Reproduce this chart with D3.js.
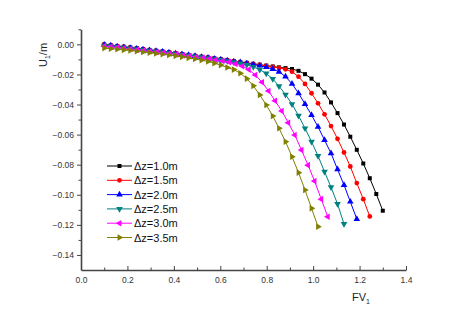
<!DOCTYPE html>
<html>
<head>
<meta charset="utf-8">
<script src="https://cdn.jsdelivr.net/npm/d3@7"></script>
<style>
  body { margin: 0; background: #fff; }
  svg { font-family: "Liberation Sans", Arial, sans-serif; }
</style>
</head>
<body>
<svg id="chart"></svg>
<script>
//define constants
const svgWidth = 460;
const svgHeight = 321;
const plotLeft = 81, plotRight = 406, plotTop = 29.3, plotBottom = 270;

//define data
const fvGrid = [0.100, 0.128, 0.156, 0.184, 0.212, 0.240, 0.267, 0.295, 0.323, 0.351,
  0.379, 0.407, 0.435, 0.463, 0.491, 0.519, 0.547, 0.574, 0.602, 0.630,
  0.658, 0.686, 0.714, 0.742, 0.770, 0.798, 0.826, 0.853, 0.881, 0.909,
  0.937, 0.965, 0.993, 1.021, 1.049, 1.077, 1.105, 1.133, 1.160, 1.188,
  1.216, 1.244, 1.272, 1.300];
const fvGrid30 = [0.100, 0.128, 0.157, 0.185, 0.213, 0.242, 0.270, 0.298, 0.327, 0.355,
  0.383, 0.412, 0.440, 0.468, 0.496, 0.525, 0.553, 0.581, 0.610, 0.638,
  0.666, 0.695, 0.723, 0.751, 0.780, 0.808, 0.836, 0.865, 0.893, 0.921,
  0.950, 0.978, 1.006, 1.035, 1.063];

const u10 = [-0.0001, -0.0006, -0.0011, -0.0016, -0.0021, -0.0026, -0.0031, -0.0037, -0.0042, -0.0047,
  -0.0053, -0.0058, -0.0064, -0.0070, -0.0076, -0.0082, -0.0088, -0.0093, -0.0099, -0.0105,
  -0.0111, -0.0117, -0.0123, -0.0129, -0.0135, -0.0141, -0.0147, -0.0153, -0.0158, -0.0164,
  -0.0176, -0.0198, -0.0228, -0.0268, -0.0320, -0.0386, -0.0457, -0.0533, -0.0614, -0.0701,
  -0.0792, -0.0890, -0.0995, -0.1106];
const u15 = [-0.0002, -0.0007, -0.0012, -0.0017, -0.0022, -0.0027, -0.0032, -0.0038, -0.0043, -0.0048,
  -0.0054, -0.0059, -0.0065, -0.0071, -0.0077, -0.0083, -0.0089, -0.0094, -0.0100, -0.0106,
  -0.0112, -0.0118, -0.0124, -0.0131, -0.0137, -0.0144, -0.0150, -0.0157, -0.0166, -0.0182,
  -0.0215, -0.0263, -0.0325, -0.0392, -0.0465, -0.0543, -0.0628, -0.0719, -0.0812, -0.0922,
  -0.1029, -0.1144];
const u20 = [-0.0004, -0.0009, -0.0014, -0.0019, -0.0024, -0.0029, -0.0034, -0.0039, -0.0044, -0.0050,
  -0.0055, -0.0061, -0.0066, -0.0072, -0.0078, -0.0084, -0.0090, -0.0096, -0.0102, -0.0108,
  -0.0114, -0.0120, -0.0127, -0.0134, -0.0142, -0.0152, -0.0164, -0.0182, -0.0215, -0.0262,
  -0.0325, -0.0397, -0.0470, -0.0548, -0.0636, -0.0724, -0.0831, -0.0935, -0.1046, -0.1161];
const u25 = [-0.0008, -0.0012, -0.0017, -0.0022, -0.0027, -0.0032, -0.0037, -0.0042, -0.0047, -0.0052,
  -0.0057, -0.0063, -0.0068, -0.0074, -0.0080, -0.0086, -0.0092, -0.0098, -0.0104, -0.0111,
  -0.0118, -0.0126, -0.0136, -0.0150, -0.0168, -0.0194, -0.0230, -0.0278, -0.0334, -0.0397,
  -0.0474, -0.0558, -0.0647, -0.0742, -0.0846, -0.0950, -0.1061, -0.1194];
const u30 = [-0.0012, -0.0016, -0.0021, -0.0026, -0.0031, -0.0036, -0.0041, -0.0046, -0.0051, -0.0056,
  -0.0061, -0.0067, -0.0073, -0.0078, -0.0084, -0.0090, -0.0096, -0.0103, -0.0110, -0.0118,
  -0.0130, -0.0145, -0.0168, -0.0204, -0.0252, -0.0310, -0.0375, -0.0443, -0.0521, -0.0603,
  -0.0703, -0.0803, -0.0909, -0.1029, -0.1146];
const u35 = [-0.0025, -0.0029, -0.0033, -0.0037, -0.0041, -0.0046, -0.0051, -0.0056, -0.0061, -0.0066,
  -0.0071, -0.0077, -0.0083, -0.0090, -0.0097, -0.0105, -0.0114, -0.0125, -0.0138, -0.0154,
  -0.0168, -0.0192, -0.0228, -0.0276, -0.0336, -0.0403, -0.0476, -0.0558, -0.0647, -0.0747,
  -0.0853, -0.0968, -0.1090, -0.1212];

const seriesNames = ['\u0394z=1.0m', '\u0394z=1.5m', '\u0394z=2.0m', '\u0394z=2.5m', '\u0394z=3.0m', '\u0394z=3.5m'];
const seriesColors = ['#000000', '#ff0000', '#0000ff', '#008080', '#ff00ff', '#808000'];
const xTicks = [0.0, 0.2, 0.4, 0.6, 0.8, 1.0, 1.2, 1.4];
const yTicks = [0.00, -0.02, -0.04, -0.06, -0.08, -0.10, -0.12, -0.14];

//marker shapes: [symbol type, rotation, size]
const markers = [
  [d3.symbolSquare, 0, 16],
  [d3.symbolCircle, 0, 18],
  [d3.symbolTriangle, 0, 19],
  [d3.symbolTriangle, 180, 19],
  [d3.symbolTriangle, -90, 19],
  [d3.symbolTriangle, 90, 19]
];

const series = [
  {x: fvGrid, y: u10},
  {x: fvGrid, y: u15},
  {x: fvGrid, y: u20},
  {x: fvGrid, y: u25},
  {x: fvGrid30, y: u30},
  {x: fvGrid, y: u35}
].map((s, i) => ({
  name: seriesNames[i],
  color: seriesColors[i],
  marker: markers[i],
  points: s.y.map((v, j) => [s.x[j], v])
}));

//configure svg window
const svg = d3.select('#chart')
  .attr('width', svgWidth)
  .attr('height', svgHeight);

//scales
const xScale = d3.scaleLinear().domain([0, 1.4]).range([plotLeft, plotRight]);
const yScale = d3.scaleLinear().domain([-0.15, 0.01]).range([plotBottom, plotTop]);

const axisColor = '#444';

//x axis: ticks pointing inward
svg.append('g')
  .attr('transform', `translate(0, ${plotBottom})`)
  .call(d3.axisBottom(xScale).tickValues(xTicks).tickSizeInner(-4).tickSizeOuter(0)
    .tickPadding(7).tickFormat(d3.format('.1f')));
svg.append('g')
  .attr('transform', `translate(0, ${plotBottom})`)
  .call(d3.axisBottom(xScale).tickValues(d3.range(0.1, 1.4, 0.2)).tickSizeInner(-2.5).tickSizeOuter(0).tickFormat(''))
  .call(g => g.select('.domain').remove());

//y axis: ticks pointing outward
svg.append('g')
  .attr('transform', `translate(${plotLeft}, 0)`)
  .call(d3.axisLeft(yScale).tickValues(yTicks).tickSizeInner(4).tickSizeOuter(0)
    .tickPadding(3).tickFormat(d3.format('.2f')));
svg.append('g')
  .attr('transform', `translate(${plotLeft}, 0)`)
  .call(d3.axisLeft(yScale).tickValues([0.01, -0.01, -0.03, -0.05, -0.07, -0.09, -0.11, -0.13]).tickSizeInner(2.5).tickSizeOuter(0).tickFormat(''))
  .call(g => g.select('.domain').remove());

svg.selectAll('.domain').attr('stroke', axisColor).attr('stroke-width', 1.6);
svg.selectAll('.tick line').attr('stroke', axisColor).attr('stroke-width', 1);
svg.selectAll('.tick text')
  .attr('fill', '#333')
  .style('font-size', '8.5px')
  .style('font-family', '"Liberation Sans", Arial, sans-serif');

//axis labels
const xLabel = svg.append('text')
  .attr('x', 352)
  .attr('y', 300.5)
  .attr('fill', '#222')
  .style('font-size', '11px');
xLabel.append('tspan').text('FV');
xLabel.append('tspan').text('1').attr('dy', 3).style('font-size', '7px');

const yLabel = svg.append('text')
  .attr('transform', `translate(47, 67) rotate(-90)`)
  .attr('fill', '#222')
  .style('font-size', '11px');
yLabel.append('tspan').text('U');
yLabel.append('tspan').text('1').attr('dy', 3).style('font-size', '7px');
yLabel.append('tspan').text('/m').attr('dy', -3);

//lines
const line = d3.line()
  .x(d => xScale(d[0]))
  .y(d => yScale(d[1]));

const groups = svg.selectAll('.series')
  .data(series)
  .enter()
  .append('g')
    .classed('series', true);

groups.append('path')
  .attr('d', d => line(d.points))
  .attr('fill', 'none')
  .attr('stroke', d => d.color)
  .attr('stroke-width', 1);

groups.each(function(s) {
  const sym = d3.symbol().type(s.marker[0]).size(s.marker[2]);
  d3.select(this).selectAll('path.pt')
    .data(s.points)
    .enter()
    .append('path')
      .classed('pt', true)
      .attr('d', sym)
      .attr('transform', d => `translate(${xScale(d[0])}, ${yScale(d[1])}) rotate(${s.marker[1]})`)
      .attr('fill', s.color);
});

//legend
const legend = svg.selectAll('.legend')
  .data(series)
  .enter()
  .append('g')
    .classed('legend', true)
    .attr('transform', (d, i) => `translate(0, ${166 + i * 14.3})`);

legend.append('line')
  .attr('x1', 107).attr('x2', 132)
  .attr('stroke', d => d.color)
  .attr('stroke-width', 1);
legend.append('path')
  .attr('d', d => d3.symbol().type(d.marker[0]).size(d.marker[2])())
  .attr('transform', d => `translate(119.5, 0) rotate(${d.marker[1]})`)
  .attr('fill', d => d.color);
legend.append('text')
  .attr('x', 134)
  .attr('y', 4)
  .attr('fill', '#111')
  .style('font-size', '11px')
  .text(d => d.name);
</script>
</body>
</html>
